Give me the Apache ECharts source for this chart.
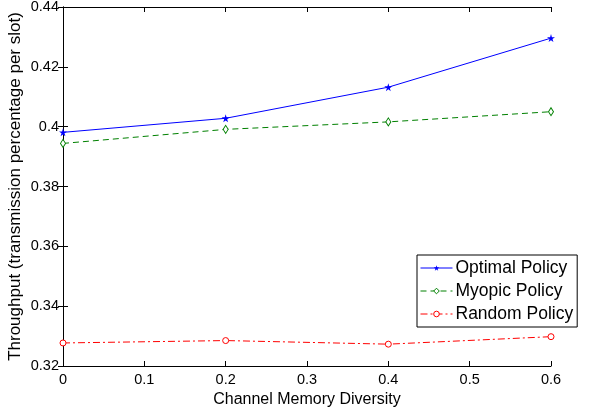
<!DOCTYPE html>
<html>
<head>
<meta charset="utf-8">
<script src="https://cdn.jsdelivr.net/npm/echarts@6/dist/echarts.min.js"></script>
<style>
html, body { margin: 0; padding: 0; background: #fff; }
#chart { width: 599px; height: 411px; }
</style>
</head>
<body>
<div id="chart"></div>
<script>
var diversity = [0, 0.2, 0.4, 0.6];
var optimalPolicy = [0.3981, 0.4028, 0.4132, 0.4296];
var myopicPolicy = [0.3944, 0.3991, 0.4016, 0.4050];
var randomPolicy = [0.3277, 0.3285, 0.3273, 0.3298];
var seriesNames = ['Optimal Policy', 'Myopic Policy', 'Random Policy'];

var starPath = 'path://M50,0 L61,35 L98,35 L68,57 L79,91 L50,70 L21,91 L32,57 L2,35 L39,35 Z';
var font = 'Liberation Sans';

function pairs(values) {
    return values.map(function (v, i) {
        return [diversity[i], v];
    });
}

var chart = echarts.init(document.getElementById('chart'), null, { renderer: 'canvas' });

var option = {
    backgroundColor: '#fff',
    animation: false,
    grid: {
        left: 63,
        right: 48,
        top: 7,
        bottom: 45,
        containLabel: false,
        outerBoundsMode: 'none'
    },
    legend: {
        orient: 'vertical',
        left: 417,
        top: 255,
        backgroundColor: '#fff',
        borderColor: '#000',
        borderWidth: 1,
        borderRadius: 0,
        padding: [4, 4, 4, 3],
        itemGap: 5,
        itemWidth: 32,
        itemHeight: 7,
        lineStyle: { width: 1 },
        itemStyle: { borderWidth: 1 },
        textStyle: { fontFamily: font, fontSize: 17.5, color: '#000', padding: [0, 0, 0, -2] },
        data: seriesNames
    },
    xAxis: [{
        type: 'value',
        min: 0,
        max: 0.6,
        interval: 0.1,
        name: 'Channel Memory Diversity',
        nameLocation: 'middle',
        nameGap: 23,
        nameTextStyle: { fontFamily: font, fontSize: 16, color: '#000' },
        axisLine: { lineStyle: { color: '#000', width: 1 } },
        axisTick: { inside: true, length: 5, lineStyle: { color: '#000' } },
        axisLabel: { fontFamily: font, fontSize: 14.5, color: '#000', margin: 6 },
        splitLine: { show: false }
    }, {
        type: 'value',
        position: 'top',
        min: 0,
        max: 0.6,
        interval: 0.1,
        axisLine: { show: true, lineStyle: { color: '#000', width: 1 } },
        axisTick: { inside: true, length: 5, lineStyle: { color: '#000' } },
        axisLabel: { show: false },
        splitLine: { show: false }
    }],
    yAxis: [{
        type: 'value',
        min: 0.32,
        max: 0.44,
        interval: 0.02,
        name: 'Throughput (transmission percentage per slot)',
        nameLocation: 'middle',
        nameGap: 39,
        nameMoveOverlap: false,
        nameTextStyle: { fontFamily: font, fontSize: 17, color: '#000' },
        axisLine: { show: true, lineStyle: { color: '#000', width: 1 } },
        axisTick: { show: true, inside: true, length: 5, lineStyle: { color: '#000' } },
        axisLabel: {
            fontFamily: font, fontSize: 14.5, color: '#000', margin: 4,
            formatter: function (v) { return String(Math.round(v * 100) / 100); }
        },
        splitLine: { show: false }
    }, {
        type: 'value',
        position: 'right',
        min: 0.32,
        max: 0.44,
        interval: 0.02,
        axisLine: { show: true, lineStyle: { color: '#000', width: 1 } },
        axisTick: { show: true, inside: true, length: 5, lineStyle: { color: '#000' } },
        axisLabel: { show: false },
        splitLine: { show: false }
    }],
    series: [{
        name: seriesNames[0],
        type: 'line',
        data: pairs(optimalPolicy),
        symbol: starPath,
        symbolSize: 8,
        itemStyle: { color: '#0000ff' },
        lineStyle: { color: '#0000ff', width: 1, type: 'solid' }
    }, {
        name: seriesNames[1],
        type: 'line',
        data: pairs(myopicPolicy),
        symbol: 'diamond',
        symbolSize: [5, 8],
        itemStyle: { color: '#fff', borderColor: '#008000', borderWidth: 1 },
        lineStyle: { color: '#008000', width: 1, type: [6, 4] }
    }, {
        name: seriesNames[2],
        type: 'line',
        data: pairs(randomPolicy),
        symbol: 'circle',
        symbolSize: 6,
        itemStyle: { color: '#fff', borderColor: '#ff0000', borderWidth: 1 },
        lineStyle: { color: '#ff0000', width: 1, type: [7, 3, 2, 3] }
    }]
};

chart.setOption(option);
</script>
</body>
</html>
